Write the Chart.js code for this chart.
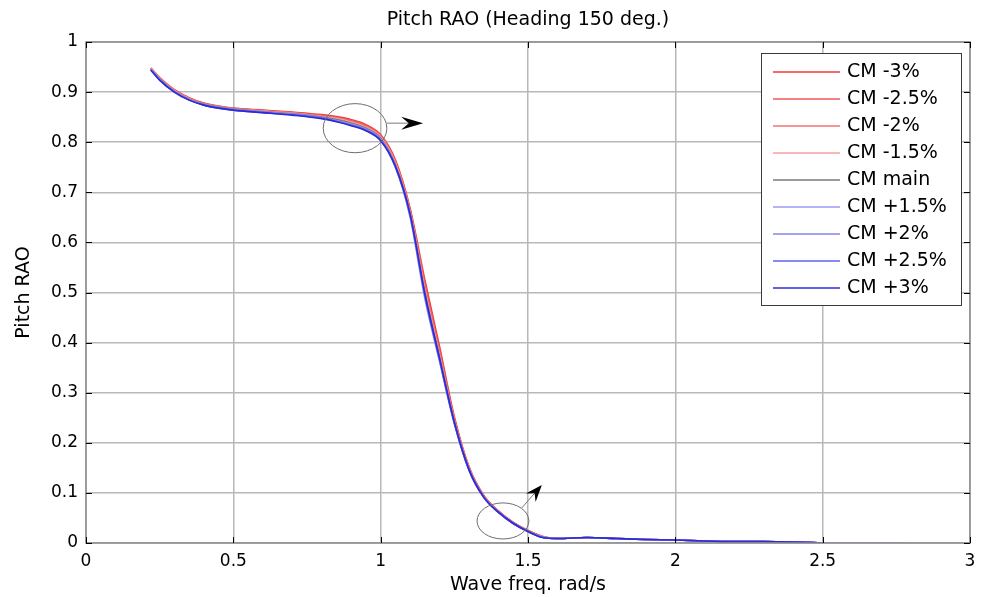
<!DOCTYPE html>
<html>
<head>
<meta charset="utf-8">
<title>Pitch RAO</title>
<script src="https://cdn.jsdelivr.net/npm/chart.js@4.4.0/dist/chart.umd.min.js"></script>
<style>
  html, body { margin: 0; padding: 0; background: #fff; }
  #wrap { width: 988px; height: 597px; }
</style>
</head>
<body>
<div id="wrap"><canvas id="rao-chart" width="988" height="597"></canvas></div>
<script>
// wave frequency (rad/s), shared by every CM run
const freqs = [0.22, 0.25, 0.3, 0.35, 0.4, 0.45, 0.5, 0.6, 0.7, 0.8, 0.85, 0.9, 0.95, 1.0, 1.05, 1.1, 1.15, 1.2,
  1.25, 1.3, 1.35, 1.4, 1.45, 1.5, 1.55, 1.6, 1.7, 1.8, 1.9, 2.0, 2.1, 2.2, 2.3, 2.4, 2.5, 2.78];

// pitch RAO per CM shift
const cmMinus3 = [0.948, 0.929, 0.905, 0.889, 0.878, 0.872, 0.868, 0.864, 0.860, 0.855, 0.851, 0.845, 0.835, 0.815, 0.765, 0.668, 0.525, 0.392,
  0.252, 0.152, 0.095, 0.064, 0.041, 0.025, 0.013, 0.009, 0.011, 0.009, 0.007, 0.006, 0.004, 0.003, 0.003, 0.002, 0.000, null];
const cmMinus25 = [0.948, 0.928, 0.904, 0.888, 0.877, 0.871, 0.867, 0.863, 0.859, 0.853, 0.849, 0.843, 0.833, 0.813, 0.762, 0.665, 0.518, 0.385,
  0.249, 0.150, 0.094, 0.063, 0.041, 0.025, 0.013, 0.009, 0.011, 0.009, 0.007, 0.006, 0.004, 0.003, 0.003, 0.002, 0.000, null];
const cmMinus2 = [0.947, 0.927, 0.903, 0.887, 0.877, 0.871, 0.867, 0.862, 0.858, 0.852, 0.848, 0.841, 0.831, 0.811, 0.760, 0.662, 0.510, 0.378,
  0.246, 0.149, 0.093, 0.063, 0.040, 0.024, 0.012, 0.009, 0.011, 0.009, 0.007, 0.006, 0.004, 0.003, 0.003, 0.002, 0.000, null];
const cmMinus15 = [0.947, 0.927, 0.903, 0.887, 0.876, 0.870, 0.866, 0.862, 0.858, 0.851, 0.847, 0.840, 0.830, 0.810, 0.758, 0.660, 0.505, 0.374,
  0.244, 0.148, 0.092, 0.062, 0.040, 0.024, 0.012, 0.009, 0.011, 0.009, 0.007, 0.006, 0.004, 0.003, 0.003, 0.002, 0.000, 0.000];
const cmMain = [0.946, 0.926, 0.902, 0.886, 0.876, 0.870, 0.866, 0.861, 0.857, 0.850, 0.845, 0.838, 0.828, 0.808, 0.755, 0.657, 0.500, 0.370,
  0.242, 0.147, 0.092, 0.062, 0.040, 0.024, 0.012, 0.009, 0.011, 0.009, 0.007, 0.006, 0.004, 0.003, 0.003, 0.002, 0.000, null];
const cmPlus15 = [0.945, 0.925, 0.901, 0.885, 0.875, 0.869, 0.865, 0.860, 0.856, 0.849, 0.843, 0.836, 0.826, 0.806, 0.752, 0.650, 0.488, 0.362,
  0.238, 0.145, 0.091, 0.061, 0.039, 0.023, 0.012, 0.009, 0.011, 0.009, 0.007, 0.006, 0.004, 0.003, 0.003, 0.002, 0.000, 0.000];
const cmPlus2 = [0.945, 0.925, 0.901, 0.885, 0.875, 0.869, 0.865, 0.860, 0.855, 0.848, 0.842, 0.835, 0.825, 0.805, 0.750, 0.652, 0.492, 0.364,
  0.239, 0.145, 0.091, 0.061, 0.039, 0.023, 0.011, 0.009, 0.011, 0.009, 0.007, 0.006, 0.004, 0.003, 0.003, 0.002, 0.000, null];
const cmPlus25 = [0.944, 0.924, 0.900, 0.884, 0.874, 0.868, 0.864, 0.859, 0.855, 0.848, 0.842, 0.834, 0.824, 0.804, 0.751, 0.655, 0.495, 0.366,
  0.240, 0.146, 0.091, 0.061, 0.039, 0.023, 0.011, 0.009, 0.011, 0.009, 0.007, 0.006, 0.004, 0.003, 0.003, 0.002, 0.000, null];
const cmPlus3 = [0.944, 0.924, 0.900, 0.884, 0.874, 0.868, 0.864, 0.859, 0.854, 0.847, 0.841, 0.833, 0.823, 0.803, 0.752, 0.656, 0.497, 0.368,
  0.241, 0.146, 0.091, 0.061, 0.039, 0.023, 0.011, 0.009, 0.011, 0.009, 0.007, 0.006, 0.004, 0.003, 0.003, 0.002, 0.000, null];

const seriesLabels = ['CM -3%', 'CM -2.5%', 'CM -2%', 'CM -1.5%', 'CM main', 'CM +1.5%', 'CM +2%', 'CM +2.5%', 'CM +3%'];
const seriesValues = [cmMinus3, cmMinus25, cmMinus2, cmMinus15, cmMain, cmPlus15, cmPlus2, cmPlus25, cmPlus3];

const xTicks = [0, 0.5, 1, 1.5, 2, 2.5, 3];
const xTickLabels = ['0', '0.5', '1', '1.5', '2', '2.5', '3'];
const yTicks = [0, 0.1, 0.2, 0.3, 0.4, 0.5, 0.6, 0.7, 0.8, 0.9, 1];
const yTickLabels = ['0', '0.1', '0.2', '0.3', '0.4', '0.5', '0.6', '0.7', '0.8', '0.9', '1'];

// ellipses around the zones of interest, and the arrows leaving them (data units)
const rings = [
  { x: 0.913, y: 0.828, rx: 0.108, ry: 0.049 },
  { x: 1.415, y: 0.044, rx: 0.088, ry: 0.036 }
];
const pointers = [
  { x0: 1.021, y0: 0.838, x1: 1.144, y1: 0.838, head: 22 },
  { x0: 1.479, y0: 0.070, x1: 1.547, y1: 0.116, head: 17 }
];

const lineColors = ['#f03a3a', '#f25a5a', '#f37373', '#f5a0a0', '#7a7a7a', '#9a9af2', '#8585f0', '#6262ee', '#2b2bd8'];
const FONT = 'DejaVu Sans';

// box round the axes plus MATLAB-style inward tick marks
const frameTicks = {
  id: 'frameTicks',
  afterDraw(chart) {
    const { ctx, chartArea: a, scales: { x, y } } = chart;
    ctx.save();
    ctx.strokeStyle = '#8c8c8c';
    ctx.lineWidth = 1.5;
    ctx.strokeRect(a.left, a.top, a.right - a.left, a.bottom - a.top);
    ctx.strokeStyle = '#000';
    ctx.lineWidth = 1;
    ctx.beginPath();
    xTicks.forEach(v => {
      const px = Math.round(x.getPixelForValue(v)) + 0.5;
      ctx.moveTo(px, a.bottom); ctx.lineTo(px, a.bottom - 6);
      ctx.moveTo(px, a.top); ctx.lineTo(px, a.top + 6);
    });
    yTicks.forEach(v => {
      const py = Math.round(y.getPixelForValue(v)) + 0.5;
      ctx.moveTo(a.left, py); ctx.lineTo(a.left + 6, py);
      ctx.moveTo(a.right, py); ctx.lineTo(a.right - 6, py);
    });
    ctx.stroke();
    ctx.restore();
  }
};

// ellipses and arrows
const callouts = {
  id: 'callouts',
  afterDatasetsDraw(chart) {
    const { ctx, scales: { x, y } } = chart;
    ctx.save();
    ctx.strokeStyle = '#6e6e6e';
    ctx.lineWidth = 1;
    rings.forEach(r => {
      const cx = x.getPixelForValue(r.x), cy = y.getPixelForValue(r.y);
      const rx = x.getPixelForValue(r.x + r.rx) - cx;
      const ry = cy - y.getPixelForValue(r.y + r.ry);
      ctx.beginPath();
      ctx.ellipse(cx, cy, rx, ry, 0, 0, Math.PI * 2);
      ctx.stroke();
    });
    pointers.forEach(p => {
      const ax = x.getPixelForValue(p.x0), ay = y.getPixelForValue(p.y0);
      const bx = x.getPixelForValue(p.x1), by = y.getPixelForValue(p.y1);
      const len = Math.hypot(bx - ax, by - ay);
      const dx = (bx - ax) / len, dy = (by - ay) / len;
      const nx = -dy, ny = dx;
      const L = p.head, w = 6.5;
      ctx.strokeStyle = '#7a7a7a';
      ctx.beginPath();
      ctx.moveTo(ax, ay);
      ctx.lineTo(bx - dx * L * 0.6, by - dy * L * 0.6);
      ctx.stroke();
      ctx.fillStyle = '#000';
      ctx.beginPath();
      ctx.moveTo(bx, by);
      ctx.lineTo(bx - dx * L + nx * w, by - dy * L + ny * w);
      ctx.lineTo(bx - dx * L * 0.65, by - dy * L * 0.65);
      ctx.lineTo(bx - dx * L - nx * w, by - dy * L - ny * w);
      ctx.closePath();
      ctx.fill();
    });
    ctx.restore();
  }
};

// boxed legend in the top-right corner of the axes
const boxLegend = {
  id: 'boxLegend',
  afterDraw(chart) {
    const { ctx, chartArea: a } = chart;
    const w = 200, h = 252;
    const left = Math.round(a.right - 9 - w), top = Math.round(a.top + 11);
    ctx.save();
    ctx.fillStyle = '#fff';
    ctx.fillRect(left, top, w, h);
    ctx.strokeStyle = '#3a3a3a';
    ctx.lineWidth = 1;
    ctx.strokeRect(left + 0.5, top + 0.5, w, h);
    ctx.font = '19px "' + FONT + '"';
    ctx.textBaseline = 'middle';
    ctx.fillStyle = '#000';
    chart.data.datasets.forEach((ds, i) => {
      const rowY = top + 19 + i * 27;
      ctx.strokeStyle = ds.borderColor;
      ctx.lineWidth = 1.6;
      ctx.beginPath();
      ctx.moveTo(left + 12, rowY);
      ctx.lineTo(left + 79, rowY);
      ctx.stroke();
      ctx.fillText(ds.label, left + 86, rowY);
    });
    ctx.restore();
  }
};

const datasets = seriesLabels.map((label, i) => ({
  label,
  data: freqs.map((f, j) => ({ x: f, y: seriesValues[i][j] })),
  borderColor: lineColors[i],
  borderWidth: 1.6,
  pointRadius: 0,
  fill: false,
  cubicInterpolationMode: 'monotone',
  order: seriesLabels.length - i
}));

new Chart(document.getElementById('rao-chart').getContext('2d'), {
  type: 'line',
  data: { datasets },
  options: {
    responsive: false,
    devicePixelRatio: 1,
    animation: false,
    layout: { padding: { left: 0, right: 18, top: 0, bottom: 0 } },
    plugins: {
      legend: { display: false },
      tooltip: { enabled: false },
      title: {
        display: true,
        fullSize: false,
        text: 'Pitch RAO (Heading 150 deg.)',
        color: '#000',
        font: { family: FONT, size: 19, weight: 'normal', lineHeight: 1.2 },
        padding: { top: 9, bottom: 10.2 }
      }
    },
    scales: {
      x: {
        type: 'linear',
        min: 0,
        max: 3,
        afterBuildTicks: s => { s.ticks = xTicks.map(v => ({ value: v })); },
        afterFit: s => { s.height = 54; },
        ticks: {
          callback: (v, i) => xTickLabels[i],
          color: '#000',
          padding: 8,
          maxRotation: 0,
          font: { family: FONT, size: 17 }
        },
        grid: { color: '#b8b8b8', lineWidth: 1.5, drawTicks: false },
        border: { display: false },
        title: {
          display: true,
          text: 'Wave freq. rad/s',
          color: '#000',
          font: { family: FONT, size: 19 },
          padding: { top: 0, bottom: 1 }
        }
      },
      y: {
        type: 'linear',
        min: 0,
        max: 1,
        afterBuildTicks: s => { s.ticks = yTicks.map(v => ({ value: v })); },
        afterFit: s => { s.width = 86; },
        ticks: {
          callback: (v, i) => yTickLabels[i],
          color: '#000',
          padding: 8,
          font: { family: FONT, size: 17 }
        },
        grid: { color: '#b8b8b8', lineWidth: 1.5, drawTicks: false },
        border: { display: false },
        title: {
          display: true,
          text: 'Pitch RAO',
          color: '#000',
          font: { family: FONT, size: 19 },
          padding: { top: 13, bottom: 0 }
        }
      }
    }
  },
  plugins: [callouts, frameTicks, boxLegend]
});
</script>
</body>
</html>
